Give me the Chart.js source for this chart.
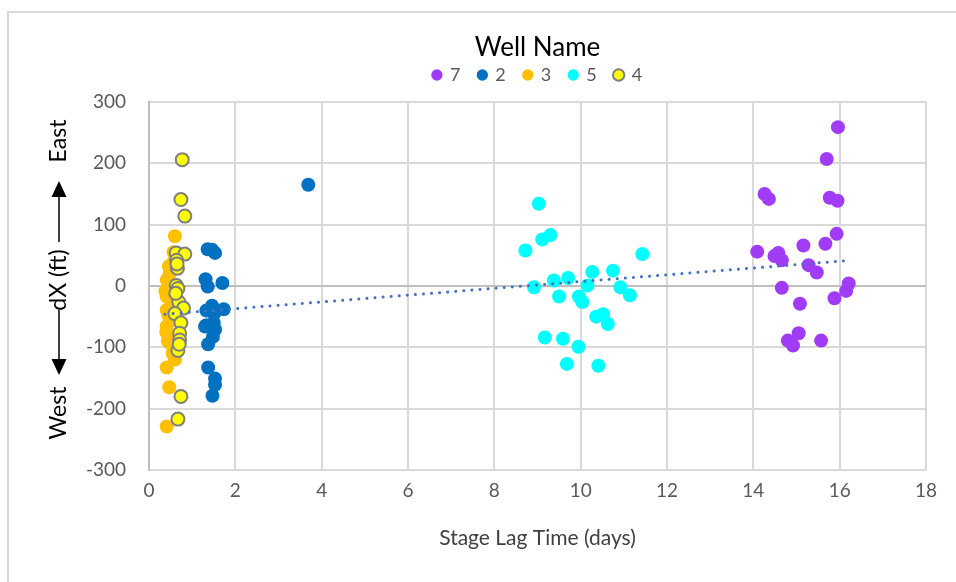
<!DOCTYPE html>
<html>
<head>
<meta charset="utf-8">
<script src="https://cdn.jsdelivr.net/npm/chart.js@4.4.1/dist/chart.umd.min.js"></script>
<style>
    html, body { margin: 0; padding: 0; background: #fff; }
    #wrap { position: relative; width: 956px; height: 582px; overflow: hidden; }
    #frame { position: absolute; left: 7px; top: 11px; width: 1000px; height: 1000px;
             border-top: 2px solid #d9d9d9; border-left: 2px solid #d9d9d9; }
    #chart { position: absolute; left: 0; top: 0; }
</style>
</head>
<body>
<div id="wrap">
    <div id="frame"></div>
    <canvas id="chart" width="956" height="582"></canvas>
</div>
<script>
// values
const well7X = [15.96, 15.70, 14.26, 14.36, 15.77, 15.95, 15.93, 14.09, 15.16, 15.67, 14.49, 14.58, 14.66, 15.28, 15.47, 14.66, 16.21, 16.15, 15.88, 15.08, 15.05, 14.80, 14.92, 15.57];
const well7Y = [259, 207, 150, 142, 144, 139, 85, 56, 66, 69, 49, 54, 42, 34, 22, -3, 4, -8, -20, -29, -77, -89, -97, -89];

const well2X = [3.69, 1.36, 1.46, 1.53, 1.31, 1.36, 1.70, 1.46, 1.33, 1.73, 1.51, 1.33, 1.50, 1.53, 1.48, 1.37, 1.37, 1.53, 1.53, 1.47, 1.40, 1.30];
const well2Y = [165, 60, 59, 54, 11, -1, 5, -32, -40, -38, -45, -64, -60, -71, -83, -95, -133, -151, -161, -179, -40, -66];

const well3X = [0.60, 0.46, 0.41, 0.38, 0.41, 0.41, 0.41, 0.46, 0.49, 0.60, 0.41, 0.47, 0.41, 0.57, 0.44, 0.50, 0.44, 0.52, 0.40, 0.55, 0.48, 0.58, 0.45];
const well3Y = [81, 32, 10, -8, -17, -39, -66, -83, -94, -120, -133, -165, -229, 55, -3, -55, -90, -22, -75, -110, 20, 40, -48];

const well5X = [9.03, 9.11, 9.30, 8.72, 11.43, 10.27, 10.75, 9.38, 9.71, 8.92, 10.16, 10.92, 11.14, 9.50, 9.96, 10.04, 10.36, 10.52, 10.63, 9.17, 9.59, 9.95, 9.68, 10.41];
const well5Y = [134, 76, 83, 58, 52, 23, 25, 9, 13, -2, 1, -2, -15, -17, -17, -26, -50, -46, -62, -84, -86, -99, -127, -130];

const well4X = [0.77, 0.74, 0.83, 0.63, 0.83, 0.64, 0.66, 0.63, 0.67, 0.69, 0.80, 0.60, 0.74, 0.71, 0.71, 0.67, 0.74, 0.67, 0.65, 0.70, 0.62];
const well4Y = [206, 141, 114, 54, 52, 42, 29, 1, -4, -26, -36, -45, -60, -77, -88, -105, -180, -217, 36, -95, -12];

// linear trend line end points
const trendX = [0.37, 16.11];
const trendY = [-46, 41];

const FONT = 'Lato, "Open Sans", sans-serif';

function toPoints(xs, ys) {
    return xs.map((x, i) => ({ x: x, y: ys[i] }));
}

function wellSet(label, xs, ys, color, order, border) {
    return {
        label: label,
        data: toPoints(xs, ys),
        backgroundColor: color,
        borderColor: border || color,
        pointBorderWidth: border ? 2 : 0,
        pointRadius: border ? 6.5 : 7,
        pointHoverRadius: 7,
        showLine: false,
        order: order
    };
}

// y axis title with arrows, drawn in the space left of the ticks
const yTitlePlugin = {
    id: 'yTitle',
    beforeUpdate(chart) {
        // the legend sits a bit higher above the plot than Chart.js leaves by default
        const legend = chart.legend;
        if (legend && !legend._padded) {
            const fit = legend.fit.bind(legend);
            legend.fit = function () { fit(); this.height += 8; };
            legend._padded = true;
        }
    },
    afterDraw(chart) {
        const ctx = chart.ctx;
        const cy = (chart.chartArea.top + chart.chartArea.bottom) / 2;
        ctx.save();
        ctx.translate(59, cy);
        ctx.rotate(-Math.PI / 2);
        ctx.fillStyle = '#000';
        ctx.strokeStyle = '#000';
        ctx.font = '23px ' + FONT;
        ctx.textAlign = 'center';
        ctx.textBaseline = 'middle';
        ctx.fillText('East', 145, 0);
        ctx.fillText('dX (ft)', 6, 0);
        ctx.fillText('West', -127, 0);

        ctx.lineWidth = 1.5;
        ctx.beginPath();
        ctx.moveTo(44, 0); ctx.lineTo(92, 0);
        ctx.moveTo(-24, 0); ctx.lineTo(-76, 0);
        ctx.stroke();
        ctx.beginPath();
        ctx.moveTo(105, 0); ctx.lineTo(89, -7.5); ctx.lineTo(89, 7.5); ctx.closePath();
        ctx.moveTo(-89, 0); ctx.lineTo(-73, -7.5); ctx.lineTo(-73, 7.5); ctx.closePath();
        ctx.fill();
        ctx.restore();
    }
};

new Chart(document.getElementById('chart'), {
    type: 'scatter',
    data: {
        datasets: [
            wellSet('7', well7X, well7Y, '#a03cf6', 5),
            wellSet('2', well2X, well2Y, '#0070c0', 4),
            wellSet('3', well3X, well3Y, '#ffc000', 3),
            wellSet('5', well5X, well5Y, '#00ffff', 2),
            wellSet('4', well4X, well4Y, '#ffff00', 1, '#7f7f7f'),
            {
                label: 'trend',
                type: 'line',
                data: toPoints(trendX, trendY),
                borderColor: '#4472c4',
                borderWidth: 3,
                borderDash: [0.1, 8],
                borderCapStyle: 'round',
                pointRadius: 0,
                fill: false,
                order: 0
            }
        ]
    },
    options: {
        responsive: false,
        animation: false,
        layout: { padding: { top: 35, right: 30, bottom: 0, left: 0 } },
        plugins: {
            title: {
                display: true,
                fullSize: false,
                text: 'Well Name',
                color: '#000',
                font: { family: FONT, size: 26, weight: 'normal', lineHeight: 1 },
                padding: { top: 0, bottom: -13 }
            },
            legend: {
                position: 'top',
                fullSize: false,
                labels: {
                    filter: (item) => item.text !== 'trend',
                    sort: (a, b) => a.datasetIndex - b.datasetIndex,
                    usePointStyle: true,
                    boxWidth: 8,
                    boxHeight: 8,
                    padding: 18,
                    color: '#595959',
                    font: { family: FONT, size: 18 }
                }
            },
            tooltip: { enabled: false }
        },
        scales: {
            x: {
                type: 'linear',
                min: 0,
                max: 18,
                afterFit(scale) { scale.height = 112; },
                ticks: { stepSize: 2, color: '#595959', padding: 9, font: { family: FONT, size: 19 } },
                grid: { color: '#d9d9d9', lineWidth: 2, drawTicks: false },
                border: { color: '#d9d9d9', width: 2 },
                title: {
                    display: true,
                    text: 'Stage Lag Time (days)',
                    color: '#404040',
                    font: { family: FONT, size: 21 },
                    padding: { top: 0, bottom: 31 }
                }
            },
            y: {
                min: -300,
                max: 300,
                afterFit(scale) { scale.width = 149; },
                ticks: { stepSize: 100, color: '#595959', padding: 23, font: { family: FONT, size: 19 } },
                grid: {
                    color: (c) => c.tick && c.tick.value === 0 ? '#bfbfbf' : '#d9d9d9',
                    lineWidth: 2,
                    drawTicks: false
                },
                border: { color: '#bfbfbf', width: 2 }
            }
        }
    },
    plugins: [yTitlePlugin]
});
</script>
</body>
</html>
